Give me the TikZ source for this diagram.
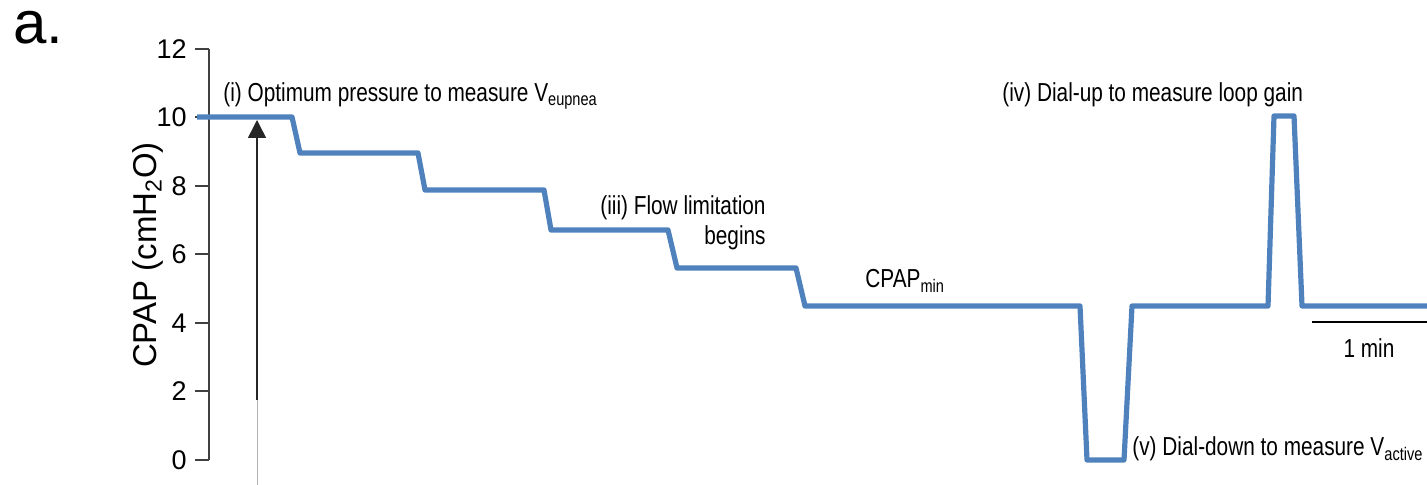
\documentclass[tikz,border=0pt]{standalone}
\usepackage{fontspec}
\setmainfont{Liberation Sans}
\newfontfamily\lblfont[FakeStretch=0.8]{Liberation Sans}
\usetikzlibrary{arrows.meta}

\definecolor{trace}{RGB}{79,129,189}
\definecolor{axisgray}{RGB}{64,64,64}

\begin{document}
\begin{tikzpicture}[x=0.5pt, y=-0.5pt, >=Triangle,
      trc/.style={draw=trace, line width=2.6pt, line join=round},
      ax/.style={draw=axisgray, line width=1pt},
      tlab/.style={font=\fontsize{13.5}{15}\selectfont, anchor=east, inner sep=0pt},
      note/.style={font=\lblfont\fontsize{13}{15}\selectfont, inner sep=0pt}]

    \useasboundingbox (0,0) rectangle (1427,485);

    \def\ty{34.25} % px per cmH2O

    % panel letter and axis title
    \node[font=\fontsize{30}{32}\selectfont, anchor=base west, inner sep=0pt,
          text height=0.55em, text depth=0pt] (panel) at (13,44) {a.};
    \node[font=\fontsize{16.5}{18}\selectfont, rotate=90] (ytitle) at (148,255) {CPAP (cmH\textsubscript{2}O)};

    % === y axis ===
    \draw[ax] (209,49) -- (209,460);
    \foreach \v in {0,2,...,12} {
      \draw[ax] (195,460-\v*\ty) -- (209,460-\v*\ty);
      \node[tlab] (tick\v) at (187,460-\v*\ty) {\v};
    }

    % === pressure trace ===
    \draw[trc] (197,117) -- (292,117) -- (300,153) -- (418,153) -- (425,190)
      -- (544,190) -- (551,230) -- (668,230) -- (677,268) -- (796,268)
      -- (805,306) -- (1080,306) -- (1087,460) -- (1124,460) -- (1132,306)
      -- (1268,306) -- (1274,116) -- (1294,116) -- (1302,306) -- (1427,306);

    % === start marker ===
    \coordinate (abot) at (257,485);
    \coordinate (amid) at (257,400);
    \coordinate (atop) at (257,120);
    \draw[gray!60, line width=0.5pt] (abot) -- (amid);
    \draw[black!85, line width=0.8pt, -{Triangle[width=9pt,length=9pt]}] (amid) -- (atop);

    % === labels ===
    \node[note, anchor=west] (opt) at (223,96) {(i) Optimum pressure to measure V\textsubscript{eupnea}};
    \node[note, anchor=east, align=right] (flow) at (766,223) {(iii) Flow limitation\\begins};
    \node[note, anchor=west] (cmin) at (865,281) {CPAP\textsubscript{min}};
    \node[note, anchor=west] (dup) at (1002,95) {(iv) Dial-up to measure loop gain};
    \node[note, anchor=west] (ddown) at (1132,449) {(v) Dial-down to measure V\textsubscript{active}};

    % === time scale ===
    \coordinate (sbl) at (1312,322);
    \coordinate (sbr) at (1427,322);
    \draw[black, line width=1.2pt] (sbl) -- (sbr);
    \node[note] (smin) at (1369,348) {1 min};

\end{tikzpicture}
\end{document}
